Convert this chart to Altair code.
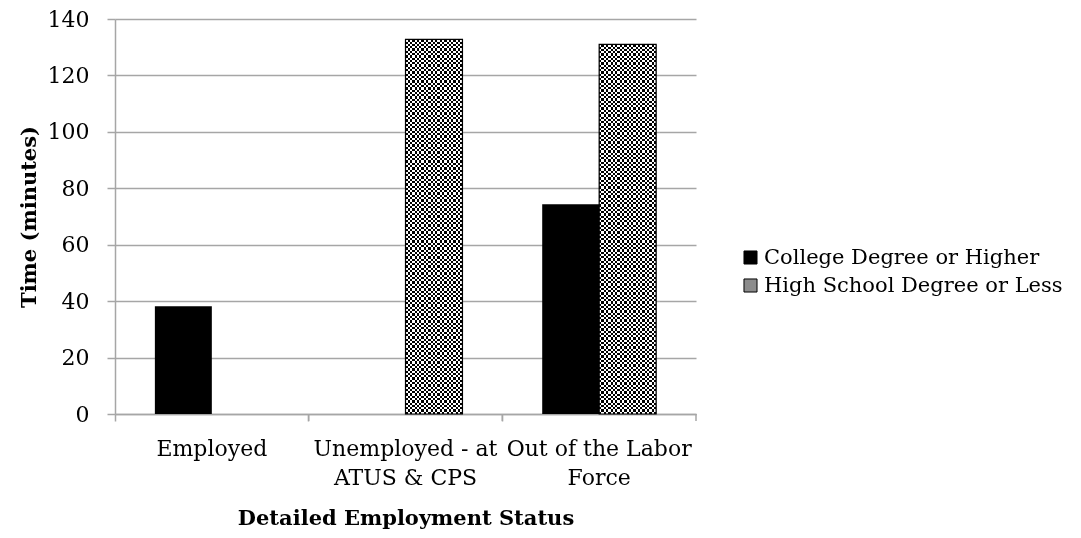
import altair as alt
import pandas as pd

# ---- data ----
categories = ["Employed", "Unemployed - at\nATUS & CPS", "Out of the Labor\nForce"]
groups = ["College Degree or Higher", "High School Degree or Less"]
college = [38.2, None, 74.3]
high_school = [None, 132.8, 131.0]
y_ticks = [0, 20, 40, 60, 80, 100, 120, 140]

rows = []
for cat, val in zip(categories, college):
    if val is not None:
        rows.append({"status": cat, "group": groups[0], "minutes": val})
for cat, val in zip(categories, high_school):
    if val is not None:
        rows.append({"status": cat, "group": groups[1], "minutes": val})
df = pd.DataFrame(rows)

FONT = "DejaVu Serif"
GRID = "#a6a6a6"
PLOT_H = 395


def stripes(n, vertical, first, second):
    stops = []
    for i in range(n):
        col = first if i % 2 == 0 else second
        stops.append(alt.GradientStop(offset=i / n, color=col))
        stops.append(alt.GradientStop(offset=(i + 1) / n, color=col))
    if vertical:
        return alt.LinearGradient(gradient="linear", stops=stops, x1=0, x2=1, y1=0, y2=0)
    return alt.LinearGradient(gradient="linear", stops=stops, x1=0, x2=0, y1=0, y2=1)


x_enc = alt.X(
    "status:N",
    sort=categories,
    scale=alt.Scale(paddingInner=0, paddingOuter=0),
    axis=alt.Axis(
        title="Detailed Employment Status",
        labelAngle=0,
        labelExpr="split(datum.label, '\\n')",
        bandPosition=0,
        tickSize=7,
        labelPadding=17,
        labelLineHeight=29,
        labelLimit=0,
        titlePadding=19,
    ),
)
xo_enc = alt.XOffset(
    "group:N",
    sort=groups,
    scale=alt.Scale(domain=groups, paddingInner=0, paddingOuter=0.7),
)
y_enc = alt.Y(
    "minutes:Q",
    scale=alt.Scale(domain=[0, 140], nice=False),
    axis=alt.Axis(
        title="Time (minutes)",
        values=y_ticks,
        tickSize=8,
        labelPadding=18,
        titlePadding=8,
    ),
)

base = alt.Chart(df)

bars = base.mark_bar().encode(
    x=x_enc,
    xOffset=xo_enc,
    y=y_enc,
    fill=alt.Fill(
        "group:N",
        sort=groups,
        scale=alt.Scale(domain=groups, range=["#000000", "#8c8c8c"]),
        legend=alt.Legend(
            title=None,
            orient="none",
            legendX=625,
            legendY=228,
            symbolType="square",
            symbolSize=170,
            symbolStrokeColor="#000000",
            symbolStrokeWidth=1,
            labelFontSize=21,
            labelFont=FONT,
            labelColor="#000000",
            labelOffset=3,
            labelLimit=0,
            rowPadding=6,
        ),
    ),
)

hs = base.transform_filter(alt.datum.group == groups[1])

vstripes = hs.mark_bar(fill=stripes(25, True, "#000000", "#ffffff")).encode(
    x=alt.X("status:N", sort=categories), xOffset=xo_enc, y="minutes:Q"
)
hstripes = hs.mark_bar(
    fill=stripes(164, False, "#ffffff", "#000000"), blend="difference"
).encode(x=alt.X("status:N", sort=categories), xOffset=xo_enc, y="minutes:Q")
outline = hs.mark_bar(
    fill="transparent", stroke="#000000", strokeWidth=1.2
).encode(x=alt.X("status:N", sort=categories), xOffset=xo_enc, y="minutes:Q")

# tick at the right end of each category band (Excel-style boundary ticks)
end_ticks = (
    alt.Chart(pd.DataFrame({"status": categories}))
    .mark_rule(color=GRID, strokeWidth=1.5)
    .encode(
        x=alt.X("status:N", sort=categories, bandPosition=1),
        y=alt.value(PLOT_H),
        y2=alt.value(PLOT_H + 7),
    )
)

chart = (
    alt.layer(bars, vstripes, hstripes, outline, end_ticks)
    .properties(
        width=581,
        height=PLOT_H,
        autosize=alt.AutoSizeParams(type="none"),
        padding={"left": 107, "top": 11, "right": 377, "bottom": 116},
    )
    .configure_view(stroke=None)
    .configure_axis(
        labelFont=FONT,
        titleFont=FONT,
        labelFontSize=22,
        titleFontSize=21,
        titleFontWeight="bold",
        labelColor="#000000",
        titleColor="#000000",
        domainColor=GRID,
        domainWidth=1.5,
        tickColor=GRID,
        tickWidth=1.5,
        gridColor=GRID,
        gridWidth=1.5,
        gridOpacity=1,
    )
    .configure_axisX(grid=False)
    .configure_axisY(grid=True, domain=True)
)

chart.save("out.html", embed_options={"renderer": "svg", "actions": False})
